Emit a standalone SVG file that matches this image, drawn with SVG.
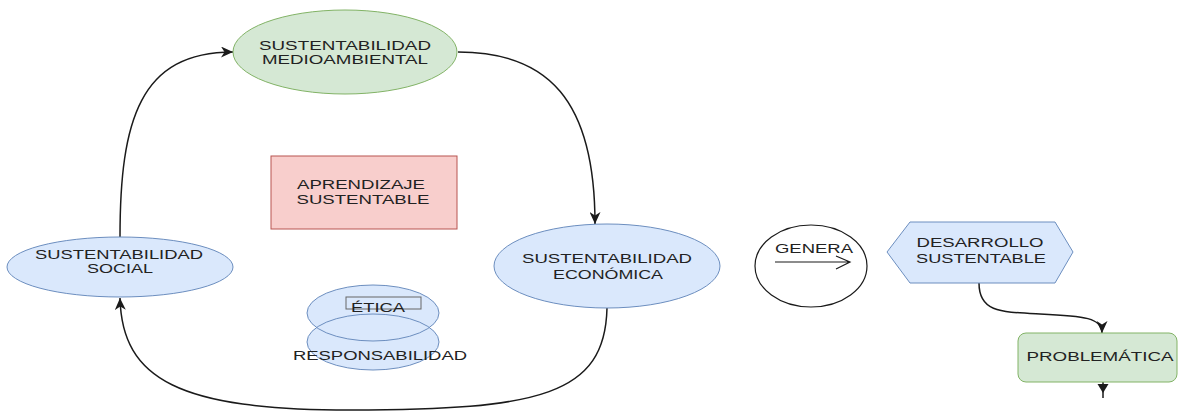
<svg xmlns="http://www.w3.org/2000/svg" width="1179" height="414" viewBox="0 0 1179 414">
<style>
.t{font-family:"Liberation Sans",Arial,sans-serif;font-size:12px;fill:#222;text-anchor:middle}
.green{fill:#d5e8d4;stroke:#82b366;stroke-width:1}
.blue{fill:#dae8fc;stroke:#6c8ebf;stroke-width:1}
.pink{fill:#f8cecc;stroke:#b85450;stroke-width:1}
.conn{fill:none;stroke:#1a1a1a;stroke-width:1.5}
</style>
<defs>
<marker id="arr" markerUnits="userSpaceOnUse" markerWidth="13" markerHeight="11" refX="12" refY="5.5" orient="auto">
<path d="M0,0 L12,5.5 L0,11 L3.5,5.5 z" fill="#1a1a1a"/>
</marker>
</defs>
<rect width="1179" height="414" fill="#ffffff"/>

<g id="connectors">
<path class="conn" d="M120,237 C120,120 140,52 233,52" marker-end="url(#arr)"/>
<path class="conn" d="M458,52 C548,52 595,100 595,224" marker-end="url(#arr)"/>
<path class="conn" d="M607,308 C605,395 540,410 350,410 C180,410 122,380 120,298" marker-end="url(#arr)"/>
<path class="conn" d="M979,283 C979,312 1000,312 1040,314 C1085,316 1102,318 1102,333" marker-end="url(#arr)"/>
<path d="M1103,382 L1103,398" stroke="#1a1a1a" stroke-width="1.5" fill="none"/>
<path d="M1097.5,384 L1108.5,384 L1103,393 z" fill="#1a1a1a"/>
</g>

<g id="medioambiental">
<ellipse class="green" cx="345" cy="52" rx="112" ry="42"/>
<text class="t" x="345" y="50" textLength="172" lengthAdjust="spacingAndGlyphs">SUSTENTABILIDAD</text>
<text class="t" x="345" y="64" textLength="166" lengthAdjust="spacingAndGlyphs">MEDIOAMBIENTAL</text>
</g>

<g id="aprendizaje">
<rect class="pink" x="271" y="156" width="186" height="73"/>
<text class="t" x="361" y="189" textLength="128" lengthAdjust="spacingAndGlyphs">APRENDIZAJE</text>
<text class="t" x="363" y="204" textLength="133" lengthAdjust="spacingAndGlyphs">SUSTENTABLE</text>
</g>

<g id="social">
<ellipse class="blue" cx="120" cy="267" rx="113" ry="30"/>
<text class="t" x="119" y="259" textLength="168" lengthAdjust="spacingAndGlyphs">SUSTENTABILIDAD</text>
<text class="t" x="120" y="273" textLength="66" lengthAdjust="spacingAndGlyphs">SOCIAL</text>
</g>

<g id="economica">
<ellipse class="blue" cx="607" cy="266" rx="113" ry="42"/>
<text class="t" x="607" y="263" textLength="170" lengthAdjust="spacingAndGlyphs">SUSTENTABILIDAD</text>
<text class="t" x="608" y="279" textLength="110" lengthAdjust="spacingAndGlyphs">ECONÓMICA</text>
</g>

<g id="etica-responsabilidad">
<ellipse cx="373" cy="313" rx="66" ry="28" fill="#dae8fc"/>
<ellipse cx="373" cy="342" rx="66" ry="28" fill="#dae8fc"/>
<ellipse cx="373" cy="313" rx="66" ry="28" fill="none" stroke="#6c8ebf"/>
<ellipse cx="373" cy="342" rx="66" ry="28" fill="none" stroke="#6c8ebf"/>
<rect x="346" y="297" width="75" height="12" fill="none" stroke="#666" stroke-width="1"/>
<text class="t" x="378" y="312" textLength="54" lengthAdjust="spacingAndGlyphs">ÉTICA</text>
<text class="t" x="380" y="360" textLength="174" lengthAdjust="spacingAndGlyphs">RESPONSABILIDAD</text>
</g>

<g id="genera">
<ellipse cx="811" cy="266" rx="56" ry="41" fill="#ffffff" stroke="#1a1a1a" stroke-width="1.2"/>
<text class="t" x="814" y="253" textLength="78" lengthAdjust="spacingAndGlyphs">GENERA</text>
<path d="M775,262 L850,262 M836,256 L850,262 L836,269" fill="none" stroke="#1a1a1a" stroke-width="1.2"/>
</g>

<g id="desarrollo">
<polygon class="blue" points="887,252 910,222 1055,222 1073,252 1055,283 910,283"/>
<text class="t" x="980" y="247" textLength="127" lengthAdjust="spacingAndGlyphs">DESARROLLO</text>
<text class="t" x="981" y="263" textLength="130" lengthAdjust="spacingAndGlyphs">SUSTENTABLE</text>
</g>

<g id="problematica">
<rect class="green" x="1018" y="333" width="159" height="49" rx="8" ry="8"/>
<text class="t" x="1100" y="361" textLength="147" lengthAdjust="spacingAndGlyphs">PROBLEMÁTICA</text>
</g>
</svg>
